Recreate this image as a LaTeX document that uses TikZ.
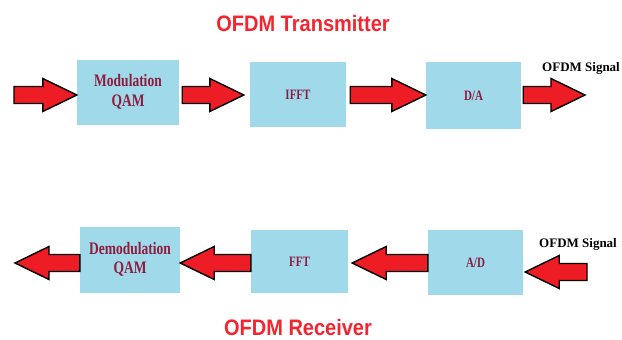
\documentclass[tikz,border=0pt]{standalone}
\usepackage{fontspec}
\usepackage{graphicx}
\setmainfont{Liberation Serif}
\newfontfamily\titlefont{Liberation Sans}
\usetikzlibrary{calc}
\definecolor{boxblue}{HTML}{A0D9EA}
\definecolor{arrowred}{HTML}{EE1C25}
\definecolor{textmaroon}{HTML}{8E1C3F}
\definecolor{titlered}{HTML}{F42530}
\newcommand\tallt[1]{\scalebox{1}[1.3]{#1}}
\newcommand\twoline[2]{\tallt{\begin{tabular}{@{}c@{}}#1\\#2\end{tabular}}}
\def\shaftw{8.5pt}
\def\headw{16.5pt}
\def\headl{34pt}
\newcommand\barrow[2]{%
  \path[blockarrow] let \p1=(#1), \p2=(#2), \n1={sign(\x2-\x1)} in
    (\x1,{\y1-\shaftw}) -- ({\x2-\n1*\headl},{\y1-\shaftw})
    -- ({\x2-\n1*\headl},{\y1-\headw}) -- (\x2,\y1)
    -- ({\x2-\n1*\headl},{\y1+\headw}) -- ({\x2-\n1*\headl},{\y1+\shaftw})
    -- (\x1,{\y1+\shaftw}) -- cycle;}
\tikzset{
  stagebox/.style={fill=boxblue, draw=none, inner sep=0pt, text=textmaroon,
    font=\bfseries\fontsize{11}{13}\selectfont},
  bigtext/.style={font=\bfseries\fontsize{13.5}{15}\selectfont},
  blockarrow/.style={fill=arrowred, draw=black, line width=1.4pt, line join=miter},
  titletext/.style={text=titlered, font=\titlefont\bfseries\fontsize{20}{24}\selectfont},
  signaltext/.style={text=black, anchor=west, inner sep=0pt, font=\bfseries\fontsize{13}{15}\selectfont}
}
\begin{document}
\begin{tikzpicture}[x=1pt,y=-1pt]
\useasboundingbox[fill=white] (0,0) rectangle (622,340);
% titles
\node[titletext] (ttx) at (303,23) {\scalebox{1}[1.12]{OFDM Transmitter}};
\node[titletext] (trx) at (298,327) {\scalebox{1}[1.12]{OFDM Receiver}};
% transmitter boxes
\node[stagebox, bigtext, minimum width=102, minimum height=65] (mod) at (128,92.5) {\twoline{Modulation}{QAM}};
\node[stagebox, minimum width=96, minimum height=65] (ifft) at (298,94.5) {\tallt{IFFT}};
\node[stagebox, minimum width=95, minimum height=67] (da) at (473.5,95.5) {\tallt{D/A}};
% receiver boxes
\node[stagebox, bigtext, minimum width=100, minimum height=66] (demod) at (130,260) {\twoline{Demodulation}{QAM}};
\node[stagebox, minimum width=97, minimum height=63] (fft) at (299.5,261.5) {\tallt{FFT}};
\node[stagebox, minimum width=95, minimum height=65] (ad) at (475.5,262.5) {\tallt{A/D}};
% signal labels
\node[signaltext] (sigtx) at (542,68) {OFDM Signal};
\node[signaltext] (sigrx) at (539,244) {OFDM Signal};
% arrow end coordinates
\coordinate (txin) at (14,95);
\coordinate (txout) at (585,95);
\coordinate (rxout) at (15,263);
\coordinate (rxin) at (587,272);
% transmitter arrows
\barrow{txin}{mod.west |- txin}
\barrow{$(mod.east |- txin)+(3,0)$}{$(ifft.west |- txin)+(-6,0)$}
\barrow{$(ifft.east |- txin)+(4,0)$}{da.west |- txin}
\barrow{$(da.east |- txin)+(2,0)$}{txout}
% receiver arrows
\barrow{demod.west |- rxout}{rxout}
\barrow{fft.west |- rxout}{demod.east |- rxout}
\barrow{ad.west |- rxout}{$(fft.east |- rxout)+(4,0)$}
\barrow{rxin}{$(ad.east |- rxin)+(2,0)$}
\end{tikzpicture}
\end{document}
